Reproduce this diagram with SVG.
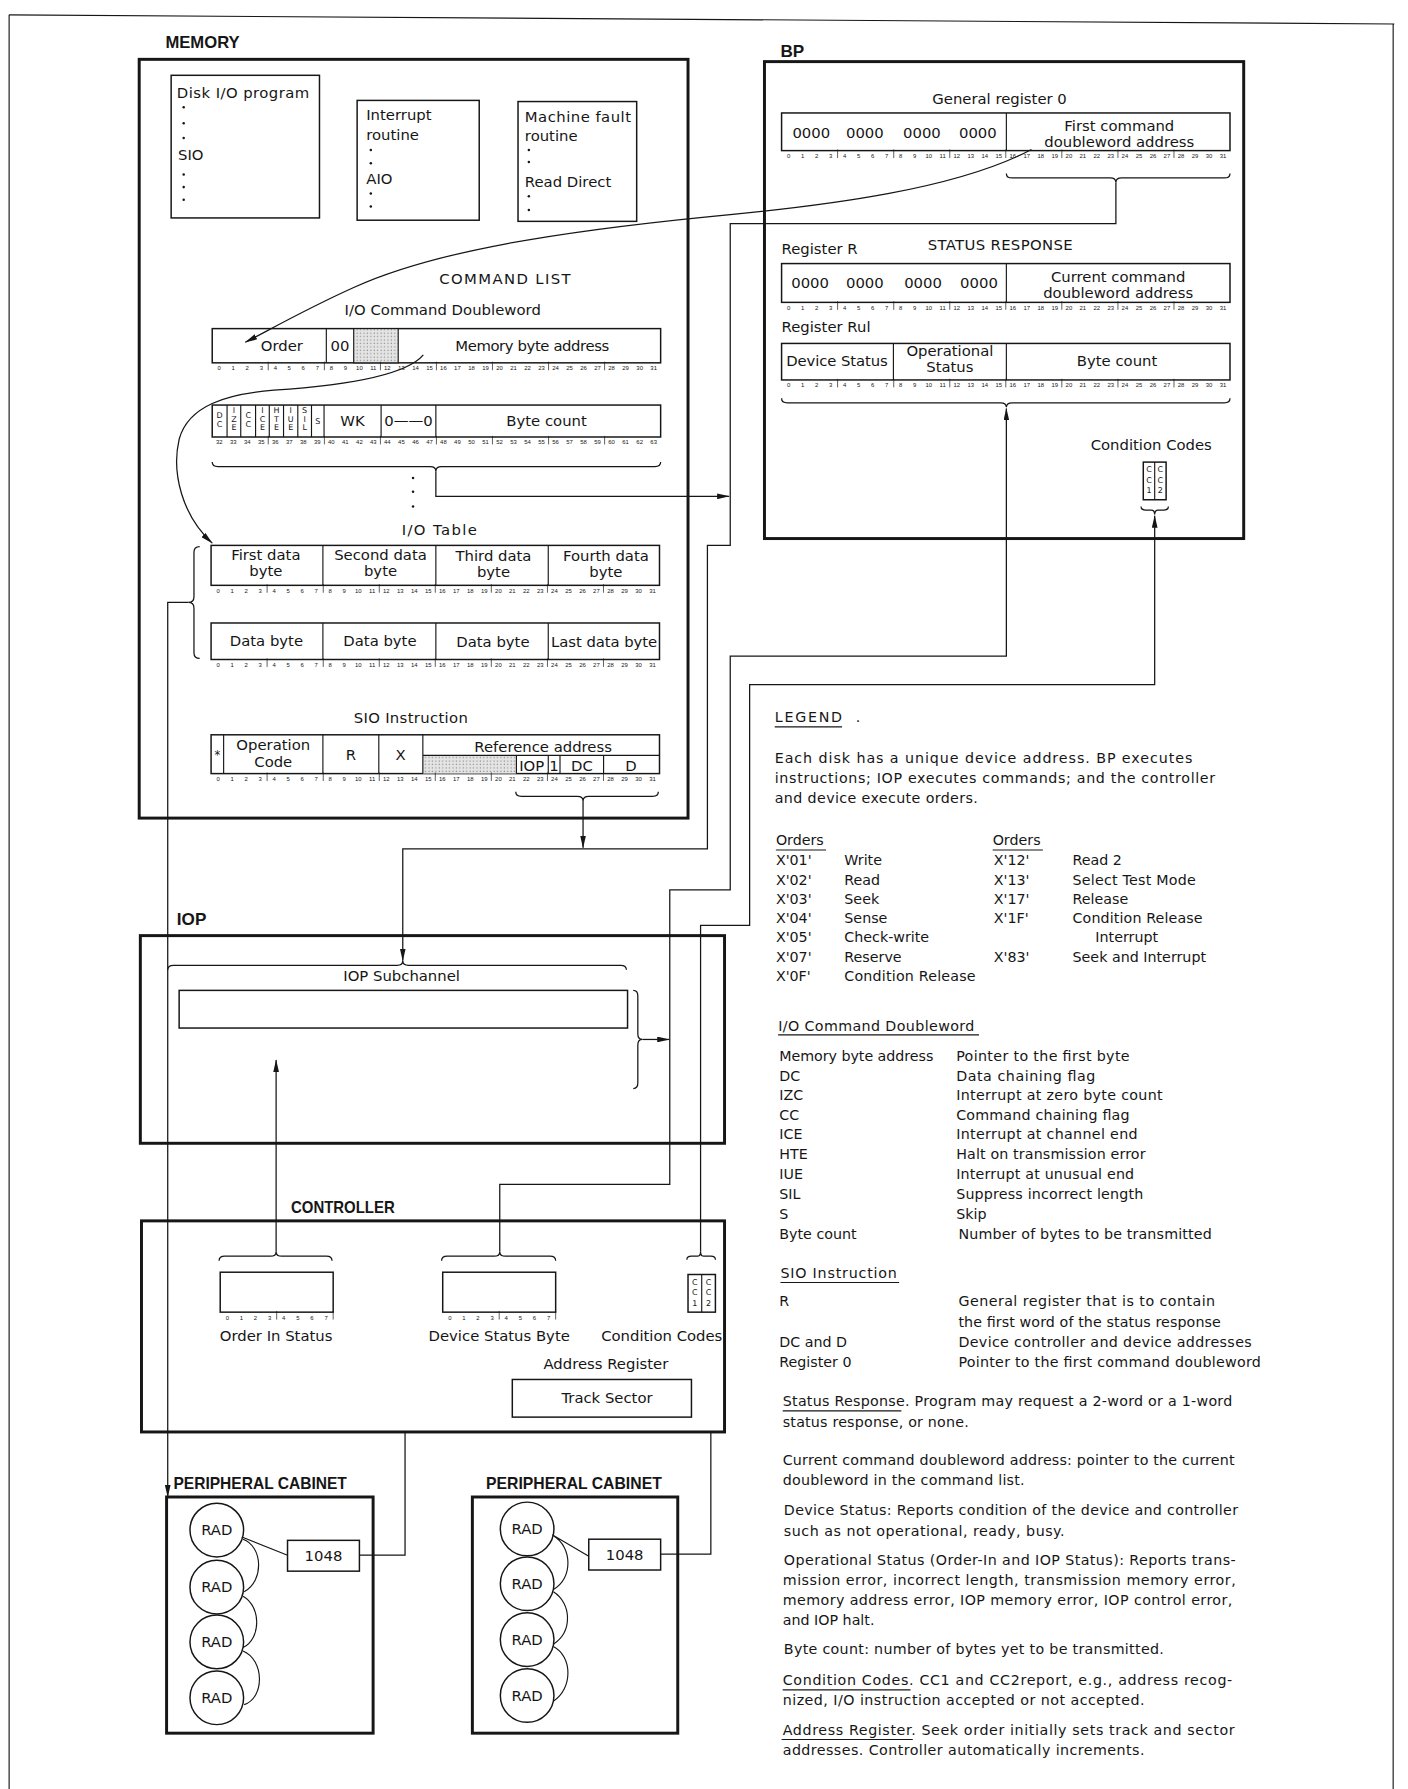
<svg xmlns="http://www.w3.org/2000/svg" width="1408" height="1789" viewBox="0 0 1408 1789">
<style>
text{font-family:"DejaVu Sans","Liberation Sans",sans-serif;fill:#161616}
.t{font-size:13px}
.c{text-anchor:middle}
.lg{font-size:12.5px}
.h{font-family:"Liberation Sans","DejaVu Sans",sans-serif;font-weight:bold;font-size:15px}
.bn{font-family:"Liberation Sans",sans-serif;font-size:5.2px;text-anchor:middle}
.cl{font-size:7px;text-anchor:middle}
.big{fill:none;stroke:#161616;stroke-width:2.6}
.reg{fill:#fff;stroke:#161616;stroke-width:1.3}
.ln{fill:none;stroke:#161616;stroke-width:1}
.tk{fill:none;stroke:#161616;stroke-width:0.6}
.br{fill:none;stroke:#161616;stroke-width:1.1}
.con{fill:none;stroke:#161616;stroke-width:1.1}
.ar{marker-end:url(#ah)}
.ul{stroke:#161616;stroke-width:1}
.dt{fill:#161616}
</style>
<defs>
<marker id="ah" viewBox="0 0 11 5" refX="10.5" refY="2.5" markerWidth="11" markerHeight="5" markerUnits="userSpaceOnUse" orient="auto"><path d="M0,0 L11,2.5 L0,5 z" fill="#161616"/></marker>
<pattern id="stip" width="3" height="3" patternUnits="userSpaceOnUse"><rect width="3" height="3" fill="#e4e4e4"/><circle cx="1" cy="1" r="0.6" fill="#8a8a8a"/></pattern>
<g id="b32"><text class="bn" y="6.5"><tspan x="6.1">0</tspan><tspan x="18.4">1</tspan><tspan x="30.7">2</tspan><tspan x="43">3</tspan><tspan x="55.3">4</tspan><tspan x="67.5">5</tspan><tspan x="79.8">6</tspan><tspan x="92.1">7</tspan><tspan x="104.4">8</tspan><tspan x="116.7">9</tspan><tspan x="129">10</tspan><tspan x="141.2">11</tspan><tspan x="153.5">12</tspan><tspan x="165.8">13</tspan><tspan x="178.1">14</tspan><tspan x="190.4">15</tspan><tspan x="202.6">16</tspan><tspan x="214.9">17</tspan><tspan x="227.2">18</tspan><tspan x="239.5">19</tspan><tspan x="251.8">20</tspan><tspan x="264">21</tspan><tspan x="276.3">22</tspan><tspan x="288.6">23</tspan><tspan x="300.9">24</tspan><tspan x="313.2">25</tspan><tspan x="325.5">26</tspan><tspan x="337.7">27</tspan><tspan x="350">28</tspan><tspan x="362.3">29</tspan><tspan x="374.6">30</tspan><tspan x="386.9">31</tspan></text><path class="tk" d="M49.1,-1v7.5M98.3,-1v7.5M147.4,-1v7.5M196.5,-1v7.5M245.6,-1v7.5M294.8,-1v7.5M343.9,-1v7.5"/></g>
<g id="b32h"><text class="bn" y="6.5"><tspan x="6.1">32</tspan><tspan x="18.4">33</tspan><tspan x="30.7">34</tspan><tspan x="43">35</tspan><tspan x="55.3">36</tspan><tspan x="67.5">37</tspan><tspan x="79.8">38</tspan><tspan x="92.1">39</tspan><tspan x="104.4">40</tspan><tspan x="116.7">41</tspan><tspan x="129">42</tspan><tspan x="141.2">43</tspan><tspan x="153.5">44</tspan><tspan x="165.8">45</tspan><tspan x="178.1">46</tspan><tspan x="190.4">47</tspan><tspan x="202.6">48</tspan><tspan x="214.9">49</tspan><tspan x="227.2">50</tspan><tspan x="239.5">51</tspan><tspan x="251.8">52</tspan><tspan x="264">53</tspan><tspan x="276.3">54</tspan><tspan x="288.6">55</tspan><tspan x="300.9">56</tspan><tspan x="313.2">57</tspan><tspan x="325.5">58</tspan><tspan x="337.7">59</tspan><tspan x="350">60</tspan><tspan x="362.3">61</tspan><tspan x="374.6">62</tspan><tspan x="386.9">63</tspan></text><path class="tk" d="M49.1,-1v7.5M98.3,-1v7.5M147.4,-1v7.5M196.5,-1v7.5M245.6,-1v7.5M294.8,-1v7.5M343.9,-1v7.5"/></g>
<g id="b8"><text class="bn" y="6.5"><tspan x="6.2">0</tspan><tspan x="18.6">1</tspan><tspan x="30.9">2</tspan><tspan x="43.3">3</tspan><tspan x="55.7">4</tspan><tspan x="68.1">5</tspan><tspan x="80.4">6</tspan><tspan x="92.8">7</tspan></text><path class="tk" d="M49.5,-1v7.5M99,-1v7.5"/></g>
</defs>
<g transform="scale(1.141)">
<rect x="0" y="0" width="1234" height="1568" fill="#fff"/>
<g id="frame"><path d="M8,13 L1222,21" class="ln" stroke-width="2"/><path d="M8,13 V1568 M1221,21 V1568" class="ln"/></g>

<g id="memory">
<text class="h" x="145" y="42" textLength="65" lengthAdjust="spacingAndGlyphs">MEMORY</text>
<rect class="big" x="122" y="52" width="481" height="665"/>
<g id="disk-io-program">
<rect class="reg" x="150" y="66" width="130" height="125"/>
<text class="t" x="155" y="86" textLength="116">Disk I/O program</text>
<circle class="dt" cx="161" cy="94" r="1.1"/><circle class="dt" cx="161" cy="108" r="1.1"/><circle class="dt" cx="161" cy="121" r="1.1"/>
<text class="t" x="156" y="140">SIO</text>
<circle class="dt" cx="161" cy="153" r="1.1"/><circle class="dt" cx="161" cy="164" r="1.1"/><circle class="dt" cx="161" cy="175" r="1.1"/>
</g>
<g id="interrupt-routine">
<rect class="reg" x="313" y="88" width="107" height="105"/>
<text class="t" x="321" y="105">Interrupt</text>
<text class="t" x="321" y="122.5">routine</text>
<circle class="dt" cx="325" cy="131.5" r="1.1"/><circle class="dt" cx="325" cy="143" r="1.1"/>
<text class="t" x="321" y="161">AIO</text>
<circle class="dt" cx="325" cy="169.5" r="1.1"/><circle class="dt" cx="325" cy="181" r="1.1"/>
</g>
<g id="machine-fault-routine">
<rect class="reg" x="454" y="89" width="104" height="105"/>
<text class="t" x="460" y="106.5" textLength="93">Machine fault</text>
<text class="t" x="460" y="124">routine</text>
<circle class="dt" cx="463.5" cy="131.5" r="1.1"/><circle class="dt" cx="463.5" cy="142" r="1.1"/>
<text class="t" x="460" y="163.5">Read Direct</text>
<circle class="dt" cx="463.5" cy="172" r="1.1"/><circle class="dt" cx="463.5" cy="184" r="1.1"/>
</g>
<g id="command-list">
<text class="t" x="385" y="248.5" textLength="115">COMMAND LIST</text>
<text class="t" x="302" y="276" textLength="172">I/O Command Doubleword</text>
<rect class="reg" x="186" y="288" width="393" height="30"/>
<rect x="310" y="288" width="39" height="30" fill="url(#stip)" stroke="#161616" stroke-width="1"/>
<path class="ln" d="M286,288V318"/>
<text class="t c" x="247" y="308">Order</text>
<text class="t c" x="298" y="308">00</text>
<text class="t" x="399" y="308" textLength="135">Memory byte address</text>
<use href="#b32" transform="translate(186,318)"/>
<rect class="reg" x="186" y="355" width="393" height="28"/>
<path class="ln" d="M199,355V383M211,355V383M224,355V383M236,355V383M248.5,355V383M261,355V383M273,355V383M284,355V383M334,355V383M382,355V383"/>
<text class="cl"><tspan x="192.5" y="366">D</tspan><tspan x="192.5" y="374">C</tspan></text>
<text class="cl"><tspan x="205" y="362">I</tspan><tspan x="205" y="369.5">Z</tspan><tspan x="205" y="377">E</tspan></text>
<text class="cl"><tspan x="217.5" y="366">C</tspan><tspan x="217.5" y="374">C</tspan></text>
<text class="cl"><tspan x="230" y="362">I</tspan><tspan x="230" y="369.5">C</tspan><tspan x="230" y="377">E</tspan></text>
<text class="cl"><tspan x="242.3" y="362">H</tspan><tspan x="242.3" y="369.5">T</tspan><tspan x="242.3" y="377">E</tspan></text>
<text class="cl"><tspan x="254.8" y="362">I</tspan><tspan x="254.8" y="369.5">U</tspan><tspan x="254.8" y="377">E</tspan></text>
<text class="cl"><tspan x="267" y="362">S</tspan><tspan x="267" y="369.5">I</tspan><tspan x="267" y="377">L</tspan></text>
<text class="cl" x="278.5" y="372">S</text>
<text class="t c" x="309" y="373.5">WK</text>
<text class="t c" x="358" y="373.5">0——0</text>
<text class="t c" x="479" y="373.5">Byte count</text>
<use href="#b32h" transform="translate(186,383)"/>
<path class="br" d="M186,405 Q186,409 191,409 L377,409 Q382,409 382,413 Q382,409 387,409 L574,409 Q579,409 579,405"/>
<circle class="dt" cx="362" cy="419" r="1.1"/><circle class="dt" cx="362" cy="431" r="1.1"/><circle class="dt" cx="362" cy="444" r="1.1"/>
</g>
<g id="io-table">
<text class="t" x="352" y="469" textLength="66">I/O Table</text>
<rect class="reg" x="185" y="478" width="393" height="35"/>
<path class="ln" d="M283,478V513M382,478V513M480.5,478V513"/>
<text class="t c"><tspan x="233" y="491">First data</tspan><tspan x="233" y="505">byte</tspan></text>
<text class="t c"><tspan x="333.5" y="491">Second data</tspan><tspan x="333.5" y="505">byte</tspan></text>
<text class="t c"><tspan x="432.5" y="492">Third data</tspan><tspan x="432.5" y="506">byte</tspan></text>
<text class="t c"><tspan x="531" y="492">Fourth data</tspan><tspan x="531" y="506">byte</tspan></text>
<use href="#b32" transform="translate(185,513)"/>
<rect class="reg" x="185" y="546" width="393" height="32"/>
<path class="ln" d="M283,546V578M382,546V578M480.5,546V578"/>
<text class="t c" x="233.5" y="566">Data byte</text>
<text class="t c" x="333" y="566">Data byte</text>
<text class="t c" x="432" y="567">Data byte</text>
<text class="t" x="483" y="567" textLength="93">Last data byte</text>
<use href="#b32" transform="translate(185,578)"/>
<path class="br" d="M175,479 Q170,479 170,484 L170,523 Q170,528 165,528 Q170,528 170,533 L170,572 Q170,577 175,577"/>
</g>
<g id="sio-instruction">
<text class="t" x="310" y="634" textLength="100">SIO Instruction</text>
<rect class="reg" x="185" y="644" width="393" height="34"/>
<rect x="370.6" y="662" width="82" height="16" fill="url(#stip)"/>
<path class="ln" d="M196,644V678M283,644V678M332,644V678M370.6,644V678M370.6,662H578M452.6,662V678M480.5,662V678M490.8,662V678M529,662V678"/>
<text class="c" font-size="10" x="190.5" y="665">*</text>
<text class="t c"><tspan x="239.5" y="657">Operation</tspan><tspan x="239.5" y="672">Code</tspan></text>
<text class="t c" x="307.5" y="666">R</text>
<text class="t c" x="351" y="666">X</text>
<text class="t c" x="476" y="659">Reference address</text>
<text class="t c" x="466" y="675.5">IOP</text>
<text class="t c" x="485.6" y="675.5">1</text>
<text class="t c" x="510" y="675.5">DC</text>
<text class="t c" x="553" y="675.5">D</text>
<use href="#b32" transform="translate(185,678)"/>
<path class="br" d="M452,694 Q452,698 457,698 L506,698 Q511,698 511,702 Q511,698 516,698 L572,698 Q577,698 577,694"/>
</g>
</g>

<g id="bp">
<text class="h" x="684" y="50">BP</text>
<rect class="big" x="670" y="54" width="420" height="418"/>
<g id="register-0">
<text class="t c" x="876" y="91">General register 0</text>
<rect class="reg" x="685" y="99" width="393" height="33"/>
<path class="ln" d="M882,99V132"/>
<text class="t c" x="711" y="121">0000</text><text class="t c" x="758" y="121">0000</text><text class="t c" x="808" y="121">0000</text><text class="t c" x="857" y="121">0000</text>
<text class="t c"><tspan x="981" y="115">First command</tspan><tspan x="981" y="129">doubleword address</tspan></text>
<use href="#b32" transform="translate(685,132)"/>
<path class="br" d="M882,152 Q882,156 887,156 L973,156 Q978,156 978,160 Q978,156 983,156 L1073,156 Q1078,156 1078,152"/>
</g>
<g id="register-r">
<text class="t" x="685" y="223">Register R</text>
<text class="t" x="813" y="219" textLength="127">STATUS RESPONSE</text>
<rect class="reg" x="685" y="231" width="393" height="34"/>
<path class="ln" d="M882,231V265"/>
<text class="t c" x="710" y="252.5">0000</text><text class="t c" x="758" y="252.5">0000</text><text class="t c" x="809" y="252.5">0000</text><text class="t c" x="858" y="252.5">0000</text>
<text class="t c"><tspan x="980" y="247">Current command</tspan><tspan x="980" y="261">doubleword address</tspan></text>
<use href="#b32" transform="translate(685,265)"/>
</g>
<g id="register-rul">
<text class="t" x="685" y="291">Register Rul</text>
<rect class="reg" x="685" y="301" width="393" height="32"/>
<path class="ln" d="M783,301V333M882,301V333"/>
<text class="t" x="689" y="321" textLength="89">Device Status</text>
<text class="t c"><tspan x="832.5" y="312">Operational</tspan><tspan x="832.5" y="326">Status</tspan></text>
<text class="t c" x="979" y="321">Byte count</text>
<use href="#b32" transform="translate(685,333)"/>
<path class="br" d="M685,349 Q685,353 690,353 L877,353 Q882,353 882,357 Q882,353 887,353 L1073,353 Q1078,353 1078,349"/>
</g>
<g id="bp-condition-codes">
<text class="t c" x="1009" y="394">Condition Codes</text>
<rect class="reg" x="1002" y="405" width="20" height="33"/>
<path class="ln" d="M1012,405V438"/>
<text class="cl"><tspan x="1007" y="414">C</tspan><tspan x="1007" y="423">C</tspan><tspan x="1007" y="432">1</tspan></text>
<text class="cl"><tspan x="1017" y="414">C</tspan><tspan x="1017" y="423">C</tspan><tspan x="1017" y="432">2</tspan></text>
<path class="br" d="M1000,444 Q1000,447 1004,447 L1009,447 Q1012,447 1012,451 Q1012,447 1015,447 L1020,447 Q1024,447 1024,444"/>
</g>
</g>

<g id="legend">
<text class="lg" x="679" y="633" textLength="59">LEGEND</text><line class="ul" x1="679" y1="637" x2="738" y2="637"/><text class="lg" x="750" y="633">.</text>
<text class="lg" x="679" y="669" textLength="366">Each disk has a unique device address. BP executes</text>
<text class="lg" x="679" y="686.5" textLength="386">instructions; IOP executes commands; and the controller</text>
<text class="lg" x="679" y="704" textLength="178">and device execute orders.</text>
<text class="lg" x="680" y="741">Orders</text><line class="ul" x1="680" y1="745" x2="724" y2="745"/>
<text class="lg" x="870" y="741">Orders</text><line class="ul" x1="870" y1="745" x2="914" y2="745"/>
<text class="lg" x="680" y="758.5">X'01'</text><text class="lg" x="740" y="758.5">Write</text>
<text class="lg" x="680" y="775.5">X'02'</text><text class="lg" x="740" y="775.5">Read</text>
<text class="lg" x="680" y="792.5">X'03'</text><text class="lg" x="740" y="792.5">Seek</text>
<text class="lg" x="680" y="809">X'04'</text><text class="lg" x="740" y="809">Sense</text>
<text class="lg" x="680" y="826">X'05'</text><text class="lg" x="740" y="826">Check-write</text>
<text class="lg" x="680" y="843">X'07'</text><text class="lg" x="740" y="843">Reserve</text>
<text class="lg" x="680" y="859.5">X'0F'</text><text class="lg" x="740" y="859.5" textLength="115">Condition Release</text>
<text class="lg" x="871" y="758.5">X'12'</text><text class="lg" x="940" y="758.5">Read 2</text>
<text class="lg" x="871" y="775.5">X'13'</text><text class="lg" x="940" y="775.5" textLength="108">Select Test Mode</text>
<text class="lg" x="871" y="792.5">X'17'</text><text class="lg" x="940" y="792.5">Release</text>
<text class="lg" x="871" y="809">X'1F'</text><text class="lg" x="940" y="809" textLength="114">Condition Release</text>
<text class="lg" x="960" y="826">Interrupt</text>
<text class="lg" x="871" y="843">X'83'</text><text class="lg" x="940" y="843" textLength="117">Seek and Interrupt</text>
<text class="lg" x="682" y="903.5" textLength="172">I/O Command Doubleword</text><line class="ul" x1="682" y1="907" x2="858" y2="907"/>
<text class="lg" x="683" y="929.5" textLength="135">Memory byte address</text><text class="lg" x="838" y="929.5" textLength="152">Pointer to the first byte</text>
<text class="lg" x="683" y="947">DC</text><text class="lg" x="838" y="947" textLength="122">Data chaining flag</text>
<text class="lg" x="683" y="964.5">IZC</text><text class="lg" x="838" y="964.5" textLength="181">Interrupt at zero byte count</text>
<text class="lg" x="683" y="981.5">CC</text><text class="lg" x="838" y="981.5" textLength="152">Command chaining flag</text>
<text class="lg" x="683" y="998.5">ICE</text><text class="lg" x="838" y="998.5" textLength="159">Interrupt at channel end</text>
<text class="lg" x="683" y="1016">HTE</text><text class="lg" x="838" y="1016" textLength="166">Halt on transmission error</text>
<text class="lg" x="683" y="1033.5">IUE</text><text class="lg" x="838" y="1033.5" textLength="156">Interrupt at unusual end</text>
<text class="lg" x="683" y="1051">SIL</text><text class="lg" x="838" y="1051" textLength="164">Suppress incorrect length</text>
<text class="lg" x="683" y="1068.5">S</text><text class="lg" x="838" y="1068.5">Skip</text>
<text class="lg" x="683" y="1085.5">Byte count</text><text class="lg" x="840" y="1085.5" textLength="222">Number of bytes to be transmitted</text>
<text class="lg" x="684" y="1120.5" textLength="102">SIO Instruction</text><line class="ul" x1="684" y1="1124" x2="788" y2="1124"/>
<text class="lg" x="683" y="1145">R</text><text class="lg" x="840" y="1145" textLength="225">General register that is to contain</text>
<text class="lg" x="840" y="1163" textLength="230">the first word of the status response</text>
<text class="lg" x="683" y="1180.5">DC and D</text><text class="lg" x="840" y="1180.5" textLength="257">Device controller and device addresses</text>
<text class="lg" x="683" y="1198">Register 0</text><text class="lg" x="840" y="1198" textLength="265">Pointer to the first command doubleword</text>
<text class="lg" x="686" y="1232.5" textLength="394">Status Response. Program may request a 2-word or a 1-word</text><line class="ul" x1="686" y1="1236.5" x2="790" y2="1236.5"/>
<text class="lg" x="686" y="1250.5" textLength="163">status response, or none.</text>
<text class="lg" x="686" y="1284" textLength="396">Current command doubleword address: pointer to the current</text>
<text class="lg" x="686" y="1301.5" textLength="212">doubleword in the command list.</text>
<text class="lg" x="687" y="1328" textLength="398">Device Status: Reports condition of the device and controller</text>
<text class="lg" x="687" y="1346" textLength="246">such as not operational, ready, busy.</text>
<text class="lg" x="687" y="1371.5" textLength="396">Operational Status (Order-In and IOP Status): Reports trans-</text>
<text class="lg" x="686" y="1389" textLength="397">mission error, incorrect length, transmission memory error,</text>
<text class="lg" x="686" y="1407" textLength="394">memory address error, IOP memory error, IOP control error,</text>
<text class="lg" x="686" y="1424">and IOP halt.</text>
<text class="lg" x="687" y="1450" textLength="333">Byte count: number of bytes yet to be transmitted.</text>
<text class="lg" x="686" y="1477" textLength="394">Condition Codes. CC1 and CC2report, e.g., address recog-</text><line class="ul" x1="686" y1="1481" x2="798" y2="1481"/>
<text class="lg" x="686" y="1494.5" textLength="317">nized, I/O instruction accepted or not accepted.</text>
<text class="lg" x="686" y="1520.5" textLength="396">Address Register. Seek order initially sets track and sector</text><line class="ul" x1="685" y1="1524.5" x2="800" y2="1524.5"/>
<text class="lg" x="686" y="1538" textLength="317">addresses. Controller automatically increments.</text>
</g>

<g id="iop">
<text class="h" x="155" y="811">IOP</text>
<rect class="big" x="123" y="820" width="512" height="182"/>
<path class="br" d="M147,850 Q147,846 152,846 L348,846 Q353,846 353,842 Q353,846 358,846 L544,846 Q549,846 549,850"/>
<text class="t c" x="352" y="860">IOP Subchannel</text>
<rect class="reg" x="157" y="868" width="393" height="33"/>
<path class="br" d="M555,868 Q559,868 559,873 L559,906 Q559,911 563,911 Q559,911 559,916 L559,949 Q559,954 555,954"/>
</g>

<g id="controller">
<text class="h" x="255" y="1063" textLength="91" lengthAdjust="spacingAndGlyphs">CONTROLLER</text>
<rect class="big" x="124" y="1070" width="511" height="185"/>
<path class="br" d="M192,1105 Q192,1101 197,1101 L237,1101 Q242,1101 242,1097 Q242,1101 247,1101 L286,1101 Q291,1101 291,1105"/>
<rect class="reg" x="193" y="1115" width="99" height="35"/>
<use href="#b8" transform="translate(193,1150)"/>
<text class="t c" x="242" y="1175">Order In Status</text>
<path class="br" d="M387,1105 Q387,1101 392,1101 L433,1101 Q438,1101 438,1097 Q438,1101 443,1101 L482,1101 Q487,1101 487,1105"/>
<rect class="reg" x="388" y="1115" width="99" height="35"/>
<use href="#b8" transform="translate(388,1150)"/>
<text class="t c" x="437.5" y="1175">Device Status Byte</text>
<path class="br" d="M602,1104 Q602,1101 606,1101 L611,1101 Q614,1101 614,1097 Q614,1101 617,1101 L623,1101 Q627,1101 627,1104"/>
<rect class="reg" x="603" y="1117" width="24" height="33"/>
<path class="ln" d="M615,1117V1150"/>
<text class="cl"><tspan x="609" y="1126">C</tspan><tspan x="609" y="1135">C</tspan><tspan x="609" y="1145">1</tspan></text>
<text class="cl"><tspan x="621" y="1126">C</tspan><tspan x="621" y="1135">C</tspan><tspan x="621" y="1145">2</tspan></text>
<text class="t c" x="580" y="1175">Condition Codes</text>
<text class="t c" x="531" y="1200">Address Register</text>
<rect class="reg" x="449" y="1209" width="157" height="33"/>
<text class="t c" x="532" y="1230">Track Sector</text>
</g>

<g id="peripheral-cabinet-1">
<text class="h" x="152" y="1305" textLength="152" lengthAdjust="spacingAndGlyphs">PERIPHERAL CABINET</text>
<rect class="big" x="146" y="1312" width="181" height="207" stroke-width="2"/>
<circle class="reg" cx="190" cy="1341" r="23.5"/><text class="t c" x="190" y="1345.5">RAD</text>
<circle class="reg" cx="190" cy="1391" r="23.5"/><text class="t c" x="190" y="1395.5">RAD</text>
<circle class="reg" cx="190" cy="1439" r="23.5"/><text class="t c" x="190" y="1443.5">RAD</text>
<circle class="reg" cx="190" cy="1488" r="23.5"/><text class="t c" x="190" y="1492.5">RAD</text>
<path class="ln" d="M213,1349 C230,1355 232,1385 214,1395 M213,1399 C229,1408 229,1436 213,1444 M213,1447 C232,1455 232,1488 214,1494 M212,1347 L252,1363"/>
<rect class="reg" x="252" y="1350" width="63" height="27"/><text class="t c" x="283.5" y="1368">1048</text>
</g>
<g id="peripheral-cabinet-2">
<text class="h" x="426" y="1305" textLength="154" lengthAdjust="spacingAndGlyphs">PERIPHERAL CABINET</text>
<rect class="big" x="414" y="1312" width="180" height="207" stroke-width="2"/>
<circle class="reg" cx="462" cy="1340" r="23.5"/><text class="t c" x="462" y="1344.5">RAD</text>
<circle class="reg" cx="462" cy="1388" r="23.5"/><text class="t c" x="462" y="1392.5">RAD</text>
<circle class="reg" cx="462" cy="1437" r="23.5"/><text class="t c" x="462" y="1441.5">RAD</text>
<circle class="reg" cx="462" cy="1486" r="23.5"/><text class="t c" x="462" y="1490.5">RAD</text>
<path class="ln" d="M485,1346 C502,1356 502,1384 485,1393 M485,1395 C501,1405 502,1430 485,1441 M485,1443 C502,1452 502,1480 485,1491 M484,1345 L516,1364"/>
<rect class="reg" x="516" y="1349" width="63" height="27"/><text class="t c" x="547.5" y="1367">1048</text>
</g>

<g id="connectors">
<path class="con ar" d="M904,131 C840,165 730,180 620,190 C490,203 380,220 310,252 C270,270 240,287 215,300"/>
<path class="con ar" d="M371,311 C355,330 300,338 240,342 C200,345 165,355 157,385 C150,415 160,452 186,476"/>
<path class="con ar" d="M978,160 L978,196 L640,196 L640,478 L620,478 L620,744 L353,744 L353,842"/>
<path class="con ar" d="M382,413 L382,435 L639,435"/>
<path class="con ar" d="M511,702 L511,743"/>
<path class="con ar" d="M563,911 L586.5,911"/>
<path class="con ar" d="M438,1097 L438,1038 L587,1038 L587,780 L640,780 L640,575 L882,575 L882,358"/>
<path class="con ar" d="M614,1097 L614,811 L657,811 L657,600 L1012,600 L1012,452"/>
<path class="con ar" d="M242,1097 L242,929"/>
<path class="con ar" d="M165,528 L147,528 L147,1312"/>
<path class="con" d="M315,1363 L355,1363 L355,1255"/>
<path class="con" d="M579,1362 L623,1362 L623,1255"/>
</g>
</g>
</svg>
